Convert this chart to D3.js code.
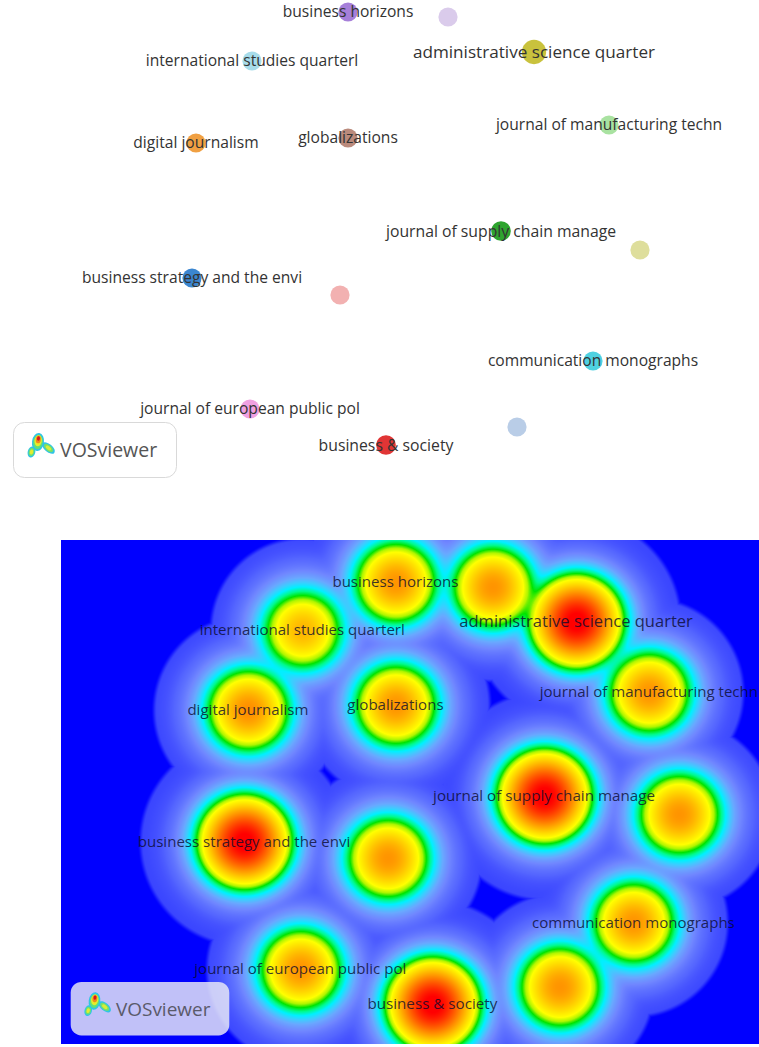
<!DOCTYPE html>
<html><head><meta charset="utf-8">
<script src="https://cdn.jsdelivr.net/npm/d3@7"></script>
<style>html,body{margin:0;padding:0;background:#fff;} svg{display:block;font-family:"Open Sans",sans-serif;}</style>
</head><body>
<svg id="chart" width="759" height="1047"></svg>
<script>
// ---------- data (VOSviewer map coordinates) ----------
const labels = ["business horizons", "", "administrative science quarter", "international studies quarterl",
  "journal of manufacturing techn", "digital journalism", "globalizations", "journal of supply chain manage",
  "", "business strategy and the envi", "", "communication monographs", "journal of european public pol",
  "business & society", ""];
const mapX = [-0.30, 0.70, 1.56, -1.26, 2.31, -1.82, -0.30, 1.23, 2.62, -1.86, -0.38, 2.15, -1.28, 0.08, 1.39];
const mapY = [-2.18, -2.13, -1.78, -1.69, -1.05, -0.87, -0.92, 0.01, 0.20, 0.48, 0.65, 1.31, 1.79, 2.15, 1.97];
const nodeWeight = [1, 1, 1.6, 1, 1, 1, 1, 1.05, 1, 1, 1, 1, 1, 1.05, 1];
const densityWeight = [1.0, 1.0, 1.55, 0.88, 1.0, 1.02, 1.0, 1.55, 1.0, 1.55, 1.0, 1.0, 1.0, 1.55, 1.0];
const nodeColors = ["#a67fd9", "#dacbeb", "#c9c23e", "#a7dcea", "#a9e2a1", "#f0a043", "#ba8a7c", "#2da42f",
  "#dede9c", "#3b86d0", "#f2b1b1", "#50d1e1", "#f0a1e1", "#e03434", "#b9cde7"];

// ---------- setup ----------
const svg = d3.select("#chart");
const xTop = d3.scaleLinear().domain([-4, 4]).range([-22, 778]);
const yTop = d3.scaleLinear().domain([-4, 4]).range([-170, 630]);
const xBot = d3.scaleLinear().domain([-4, 4]).range([36.2, 813.0]);
const yBot = d3.scaleLinear().domain([-4, 4]).range([404.55, 1184.55]);
const rScale = d3.scaleSqrt().domain([0, 1]).range([0, 9.6]);
const fontTop = 15.6, fontBot = fontTop * 0.965;
const fontScale = w => Math.pow(w, 0.2);

const nodes = labels.map((l, i) => ({label: l, x: mapX[i], y: mapY[i], w: nodeWeight[i], d: densityWeight[i], color: nodeColors[i]}));

const defs = svg.append("defs");
defs.append("filter").attr("id", "soft").attr("x", "-20%").attr("y", "-20%").attr("width", "140%").attr("height", "140%")
  .append("feGaussianBlur").attr("stdDeviation", 0.6);

// ---------- top: network view ----------
const netG = svg.append("g");
netG.append("g").selectAll("circle").data(nodes).join("circle")
  .attr("cx", d => xTop(d.x)).attr("cy", d => yTop(d.y)).attr("r", d => rScale(d.w))
  .attr("fill", d => d.color).attr("filter", "url(#soft)");
netG.append("g").selectAll("text").data(nodes.filter(d => d.label)).join("text")
  .attr("x", d => xTop(d.x)).attr("y", d => yTop(d.y)).attr("dy", "0.35em")
  .attr("text-anchor", "middle").attr("font-size", d => fontTop * fontScale(d.w))
  .attr("fill", "#333333").text(d => d.label);

function drawLogo(g, bg, stroke, textFill) {
  g.append("rect").attr("x", 0.5).attr("y", 0.5).attr("width", 163).attr("height", 55).attr("rx", 11)
    .attr("fill", bg).attr("stroke", stroke);
  const ic = g.append("g");
  const blob = (cx, cy, rx, ry, rot, layers) => {
    layers.forEach(([k, col, ox, oy]) => {
      ic.append("ellipse").attr("cx", cx + (ox || 0)).attr("cy", cy + (oy || 0)).attr("rx", rx * k).attr("ry", ry * k)
        .attr("transform", `rotate(${rot},${cx},${cy})`).attr("fill", col);
    });
  };
  blob(18.5, 30, 3.8, 5.6, 15, [[1, "#2fc4e6"], [0.72, "#6fe070"], [0.45, "#e4ec30"]]);
  blob(35.5, 26, 7.6, 4, 40, [[1, "#2fc4e6"], [0.72, "#78e068"], [0.42, "#d8ec38"]]);
  blob(25, 20, 6, 9, 8, [[1, "#2fc4e6"], [0.8, "#5fe07a"], [0.62, "#e6ec2a", 0, -1.2], [0.42, "#f08a1c", 0, -2.5], [0.25, "#d9141c", 0, -3.5]]);
  g.append("text").attr("x", 47).attr("y", 35).attr("font-size", 19.5).attr("fill", textFill).text("VOSviewer");
}
drawLogo(svg.append("g").attr("transform", "translate(13,422)"), "#ffffff", "#d9d9d9", "#555555");

// ---------- bottom: density view ----------
const px0 = 61, py0 = 540, pw = 698, ph = 504;
const canvas = document.createElement("canvas");
canvas.width = pw; canvas.height = ph;
const ctx = canvas.getContext("2d");
const img = ctx.createImageData(pw, ph);
const sigma = 31, inv = 1 / (2 * sigma * sigma), P = 4;
const centers = nodes.map(d => ({cx: xBot(d.x) - px0, cy: yBot(d.y) - py0, w: d.d, R: 94 + 10 * (d.d - 1) / 0.55}));
const stops = [0, 0.06, 0.14, 0.21, 0.27, 0.33, 0.40, 0.47, 0.54, 0.62, 0.8, 1.0, 1.25, 1.5];
const cols = ["rgb(55,65,255)", "rgb(85,102,255)", "rgb(112,135,255)", "rgb(105,168,255)", "rgb(60,205,255)",
  "rgb(0,240,255)", "rgb(0,250,140)", "rgb(0,228,0)", "rgb(175,245,0)", "rgb(255,255,0)", "rgb(255,205,0)",
  "rgb(255,148,0)", "rgb(255,75,0)", "rgb(255,0,0)"];
const ramp = d3.scaleLinear().domain(stops).range(cols).clamp(true);
const N = 1024, cmax = 1.6;
const lut = d3.range(N).map(k => d3.rgb(ramp(k / (N - 1) * cmax)));
for (let j = 0; j < ph; j++) {
  for (let i = 0; i < pw; i++) {
    let s = 0, hm = -1e9;
    for (const b of centers) {
      const dx = i - b.cx, dy = j - b.cy, r2 = dx * dx + dy * dy;
      const v = b.w * Math.exp(-r2 * inv);
      const v2 = v * v;
      s += v2 * v2;
      const h = b.R - Math.sqrt(r2);
      if (h > hm) hm = h;
    }
    const c = Math.pow(s, 1 / P);
    let m = (hm + 3) / 6; m = m < 0 ? 0 : m > 1 ? 1 : m; m = m * m * (3 - 2 * m);
    const col = lut[Math.min(N - 1, Math.round(c / cmax * (N - 1)))];
    const o = (j * pw + i) * 4;
    img.data[o] = col.r * m;
    img.data[o + 1] = col.g * m;
    img.data[o + 2] = 255 * (1 - m) + col.b * m;
    img.data[o + 3] = 255;
  }
}
ctx.putImageData(img, 0, 0);
svg.append("image").attr("x", px0).attr("y", py0).attr("width", pw).attr("height", ph)
  .attr("href", canvas.toDataURL());

defs.append("clipPath").attr("id", "panel").append("rect").attr("x", px0).attr("y", py0).attr("width", pw).attr("height", ph);
const bot = svg.append("g").attr("clip-path", "url(#panel)");
bot.append("g").selectAll("text").data(nodes.filter(d => d.label)).join("text")
  .attr("x", d => xBot(d.x)).attr("y", d => yBot(d.y)).attr("dy", "0.35em")
  .attr("text-anchor", "middle").attr("font-size", d => fontBot * fontScale(d.w))
  .attr("fill", "rgba(10,10,45,0.8)").text(d => d.label);
drawLogo(bot.append("g").attr("transform", "translate(70.2,981.5) scale(0.973)"), "rgba(236,236,246,0.82)", "none", "#5a5a6a");
</script>
</body></html>
